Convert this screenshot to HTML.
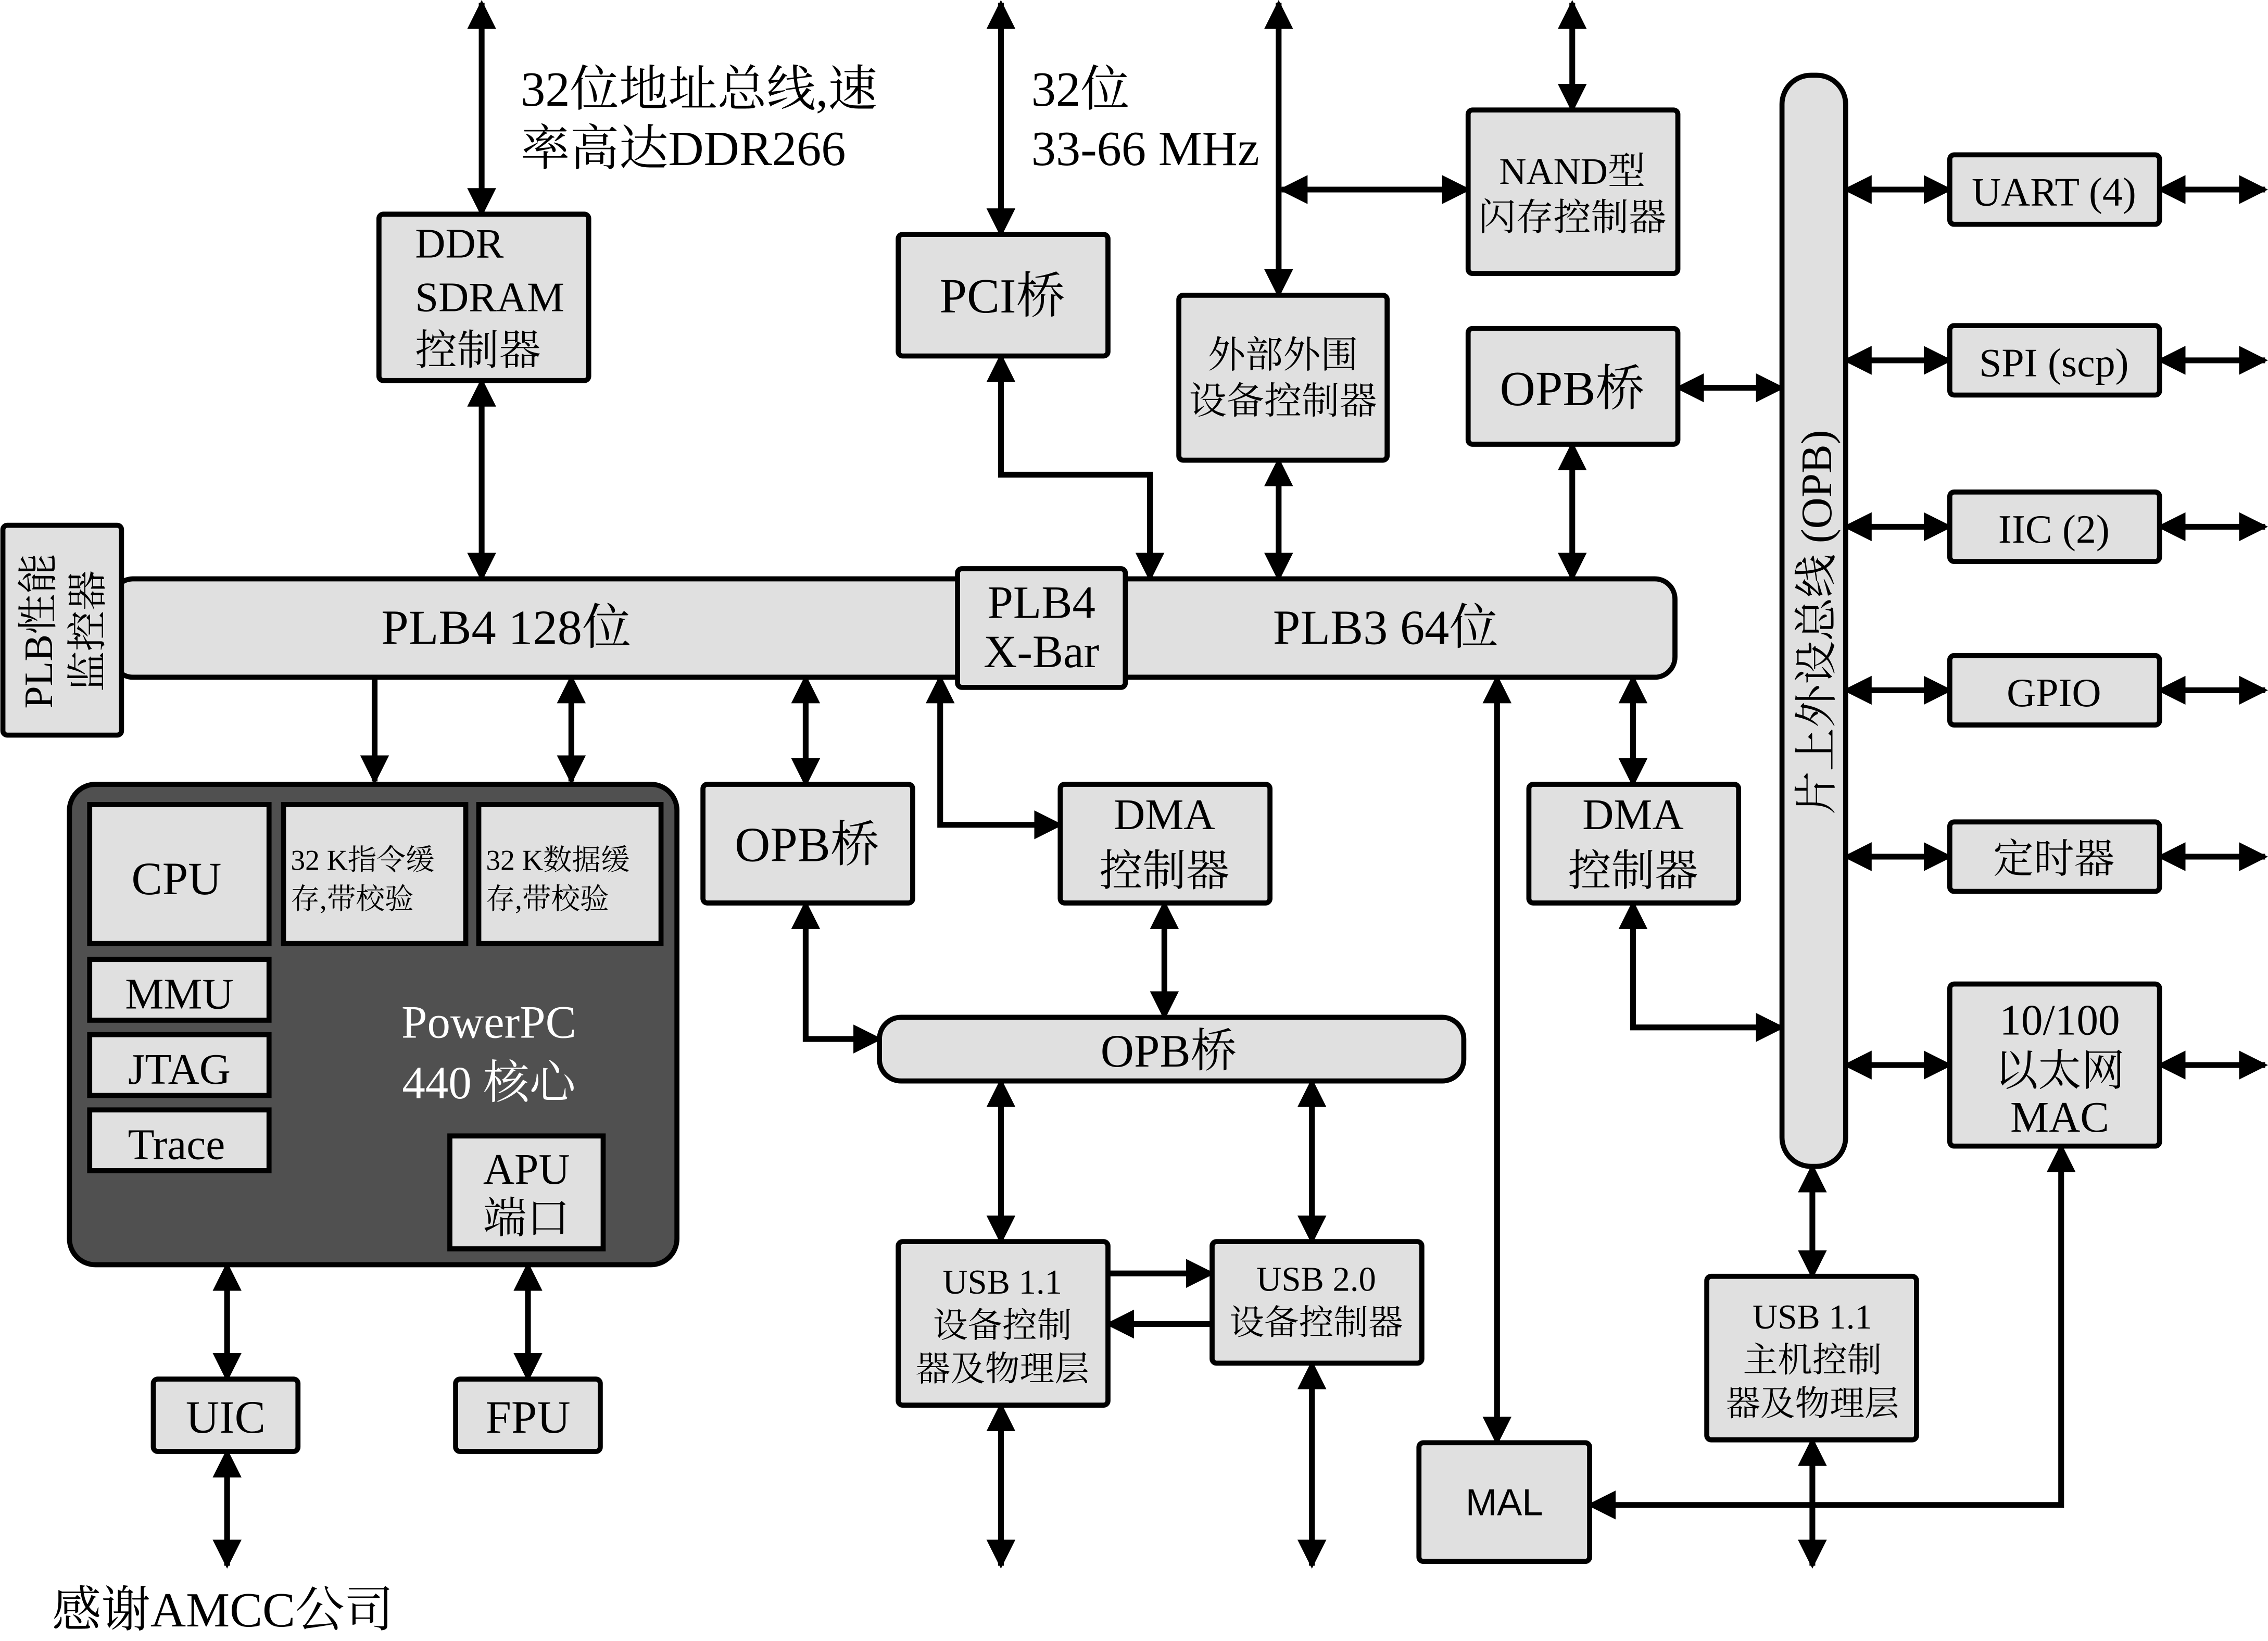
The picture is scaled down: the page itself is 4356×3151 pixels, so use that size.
<!DOCTYPE html>
<html><head><meta charset="utf-8"><style>
html,body{margin:0;padding:0;background:#fff}
svg{display:block}
text{font-family:"Liberation Serif","Noto Serif CJK SC","Noto Sans CJK SC",serif;fill:#000}
.b{fill:#e0e0e0;stroke:#000;stroke-width:3.5}
.l{stroke:#000;stroke-width:4;fill:none}
</style></head><body>
<svg width="4356" height="3151" viewBox="0 0 1568 1134" preserveAspectRatio="none" xmlns="http://www.w3.org/2000/svg">
<defs>
<marker id="a" viewBox="0 0 10 10" refX="9" refY="5" markerWidth="5" markerHeight="5" orient="auto-start-reverse" markerUnits="strokeWidth"><path d="M0,0 L10,5 L0,10 z" fill="#000"/></marker>
</defs>
<g class="l" marker-end="url(#a)">
<!-- top arrows -->
<path d="M333,2 V148" marker-start="url(#a)"/>
<path d="M692,2 V162" marker-start="url(#a)"/>
<path d="M884,2 V204" marker-start="url(#a)"/>
<path d="M1087,2 V76" marker-start="url(#a)"/>
<path d="M886,131 H1015" marker-start="url(#a)"/>
<path d="M333,263 V400" marker-start="url(#a)"/>
<path d="M692,246 V328 H795 V400" marker-start="url(#a)"/>
<path d="M884,318 V400" marker-start="url(#a)"/>
<path d="M1087,307 V400" marker-start="url(#a)"/>
<path d="M1160,268 H1232" marker-start="url(#a)"/>
<!-- right side -->
<path d="M1276,131 H1348" marker-start="url(#a)"/>
<path d="M1493,131 H1566" marker-start="url(#a)"/>
<path d="M1276,249 H1348" marker-start="url(#a)"/>
<path d="M1493,249 H1566" marker-start="url(#a)"/>
<path d="M1276,364 H1348" marker-start="url(#a)"/>
<path d="M1493,364 H1566" marker-start="url(#a)"/>
<path d="M1276,477 H1348" marker-start="url(#a)"/>
<path d="M1493,477 H1566" marker-start="url(#a)"/>
<path d="M1276,592 H1348" marker-start="url(#a)"/>
<path d="M1493,592 H1566" marker-start="url(#a)"/>
<path d="M1276,736 H1348" marker-start="url(#a)"/>
<path d="M1493,736 H1566" marker-start="url(#a)"/>
<!-- below bus -->
<path d="M259,468 V540"/>
<path d="M395,468 V540" marker-start="url(#a)"/>
<path d="M557,468 V542" marker-start="url(#a)"/>
<path d="M650,468 V570 H733" marker-start="url(#a)"/>
<path d="M1129,468 V542" marker-start="url(#a)"/>
<path d="M1129,624 V710 H1232" marker-start="url(#a)"/>
<path d="M1035,468 V997" marker-start="url(#a)"/>
<path d="M557,624 V718 H608" marker-start="url(#a)"/>
<path d="M805,624 V703" marker-start="url(#a)"/>
<path d="M692,747 V858" marker-start="url(#a)"/>
<path d="M907,747 V858" marker-start="url(#a)"/>
<path d="M692,971 V1082" marker-start="url(#a)"/>
<path d="M907,942 V1082" marker-start="url(#a)"/>
<path d="M766,880 H838"/>
<path d="M838,915 H766"/>
<path d="M1253,806 V882" marker-start="url(#a)"/>
<path d="M1253,995 V1082" marker-start="url(#a)"/>
<path d="M1099,1040 H1425 V792" marker-start="url(#a)"/>
<path d="M157,874 V953" marker-start="url(#a)"/>
<path d="M365,874 V953" marker-start="url(#a)"/>
<path d="M157,1003 V1082" marker-start="url(#a)"/>
</g>
<!-- boxes -->
<rect class="b" x="262" y="148" width="145" height="115" rx="3"/>
<text x="287" y="178" font-size="29">DDR</text>
<text x="287" y="215" font-size="29">SDRAM</text>
<text x="287" y="252" font-size="29">控制器</text>
<text x="360" y="73" font-size="34">32位地址总线,速</text>
<text x="360" y="114" font-size="34">率高达DDR266</text>
<rect class="b" x="621" y="162" width="145" height="84" rx="3"/>
<text x="693" y="216" font-size="34" text-anchor="middle">PCI桥</text>
<text x="713" y="73" font-size="34">32位</text>
<text x="713" y="114" font-size="34">33-66 MHz</text>
<rect class="b" x="815" y="204" width="144" height="114" rx="3"/>
<text x="887" y="254" font-size="26" text-anchor="middle">外部外围</text>
<text x="887" y="286" font-size="26" text-anchor="middle">设备控制器</text>
<rect class="b" x="1015" y="76" width="145" height="113" rx="3"/>
<text x="1087" y="127" font-size="26" text-anchor="middle">NAND型</text>
<text x="1087" y="159" font-size="26" text-anchor="middle">闪存控制器</text>
<rect class="b" x="1015" y="227" width="145" height="80" rx="3"/>
<text x="1087" y="280" font-size="34" text-anchor="middle">OPB桥</text>
<rect class="b" x="1232" y="52" width="44" height="754" rx="20"/>
<text transform="translate(1266,430) rotate(-90)" font-size="30" text-anchor="middle">片上外设总线 (OPB)</text>
<rect class="b" x="1348" y="107" width="145" height="48" rx="3"/>
<text x="1420" y="142" font-size="28" text-anchor="middle">UART (4)</text>
<rect class="b" x="1348" y="225" width="145" height="48" rx="3"/>
<text x="1420" y="260" font-size="28" text-anchor="middle">SPI (scp)</text>
<rect class="b" x="1348" y="340" width="145" height="48" rx="3"/>
<text x="1420" y="375" font-size="28" text-anchor="middle">IIC (2)</text>
<rect class="b" x="1348" y="453" width="145" height="48" rx="3"/>
<text x="1420" y="488" font-size="28" text-anchor="middle">GPIO</text>
<rect class="b" x="1348" y="568" width="145" height="48" rx="3"/>
<text x="1420" y="603" font-size="28" text-anchor="middle">定时器</text>
<rect class="b" x="1348" y="680" width="145" height="112" rx="3"/>
<text x="1424" y="715" font-size="30" text-anchor="middle">10/100</text>
<text x="1424" y="750" font-size="30" text-anchor="middle">以太网</text>
<text x="1424" y="782" font-size="30" text-anchor="middle">MAC</text>
<!-- PLB bus -->
<rect class="b" x="78" y="400" width="1080" height="68" rx="14"/>
<text x="350" y="445" font-size="34" text-anchor="middle">PLB4 128位</text>
<text x="958" y="445" font-size="34" text-anchor="middle">PLB3 64位</text>
<rect class="b" x="662" y="393" width="116" height="82" rx="3"/>
<text x="720" y="427" font-size="32" text-anchor="middle">PLB4</text>
<text x="720" y="461" font-size="32" text-anchor="middle">X-Bar</text>
<rect class="b" x="2" y="363" width="82" height="145" rx="3"/>
<text transform="translate(36,436) rotate(-90)" font-size="28" text-anchor="middle">PLB性能</text>
<text transform="translate(70,436) rotate(-90)" font-size="28" text-anchor="middle">监控器</text>
<!-- core -->
<rect x="48" y="542" width="420" height="332" rx="18" fill="#505050" stroke="#000" stroke-width="3.5"/>
<rect class="b" x="62" y="556" width="124" height="96"/>
<text x="122" y="618" font-size="32" text-anchor="middle">CPU</text>
<rect class="b" x="196" y="556" width="126" height="96"/>
<text x="201" y="601" font-size="20">32 K指令缓</text>
<text x="201" y="628" font-size="20">存,带校验</text>
<rect class="b" x="331" y="556" width="126" height="96"/>
<text x="336" y="601" font-size="20">32 K数据缓</text>
<text x="336" y="628" font-size="20">存,带校验</text>
<rect class="b" x="62" y="663" width="124" height="42"/>
<text x="124" y="697" font-size="30" text-anchor="middle">MMU</text>
<rect class="b" x="62" y="715" width="124" height="42"/>
<text x="124" y="749" font-size="30" text-anchor="middle">JTAG</text>
<rect class="b" x="62" y="767" width="124" height="42"/>
<text x="122" y="801" font-size="30" text-anchor="middle">Trace</text>
<rect class="b" x="311" y="785" width="106" height="78"/>
<text x="364" y="818" font-size="30" text-anchor="middle">APU</text>
<text x="364" y="852" font-size="30" text-anchor="middle">端口</text>
<text x="338" y="717" font-size="32" text-anchor="middle" style="fill:#fff">PowerPC</text>
<text x="338" y="759" font-size="32" text-anchor="middle" style="fill:#fff">440 核心</text>
<rect class="b" x="106" y="953" width="100" height="50" rx="3"/>
<text x="156" y="990" font-size="32" text-anchor="middle">UIC</text>
<rect class="b" x="315" y="953" width="100" height="50" rx="3"/>
<text x="365" y="990" font-size="32" text-anchor="middle">FPU</text>
<text x="36" y="1124" font-size="34">感谢AMCC公司</text>
<!-- middle -->
<rect class="b" x="486" y="542" width="145" height="82" rx="3"/>
<text x="558" y="595" font-size="34" text-anchor="middle">OPB桥</text>
<rect class="b" x="733" y="542" width="145" height="82" rx="3"/>
<text x="805" y="573" font-size="30" text-anchor="middle">DMA</text>
<text x="805" y="612" font-size="30" text-anchor="middle">控制器</text>
<rect class="b" x="1057" y="542" width="145" height="82" rx="3"/>
<text x="1129" y="573" font-size="30" text-anchor="middle">DMA</text>
<text x="1129" y="612" font-size="30" text-anchor="middle">控制器</text>
<rect class="b" x="608" y="703" width="404" height="44" rx="15"/>
<text x="808" y="737" font-size="32" text-anchor="middle">OPB桥</text>
<rect class="b" x="621" y="858" width="145" height="113" rx="3"/>
<text x="693" y="894" font-size="24" text-anchor="middle">USB 1.1</text>
<text x="693" y="924" font-size="24" text-anchor="middle">设备控制</text>
<text x="693" y="954" font-size="24" text-anchor="middle">器及物理层</text>
<rect class="b" x="838" y="858" width="145" height="84" rx="3"/>
<text x="910" y="892" font-size="24" text-anchor="middle">USB 2.0</text>
<text x="910" y="922" font-size="24" text-anchor="middle">设备控制器</text>
<rect class="b" x="1180" y="882" width="145" height="113" rx="3"/>
<text x="1253" y="918" font-size="24" text-anchor="middle">USB 1.1</text>
<text x="1253" y="948" font-size="24" text-anchor="middle">主机控制</text>
<text x="1253" y="978" font-size="24" text-anchor="middle">器及物理层</text>
<rect class="b" x="981" y="997" width="118" height="82" rx="3"/>
<text x="1040" y="1047" font-size="26" text-anchor="middle" style="font-family:'Liberation Sans',sans-serif">MAL</text>
</svg>
</body></html>
